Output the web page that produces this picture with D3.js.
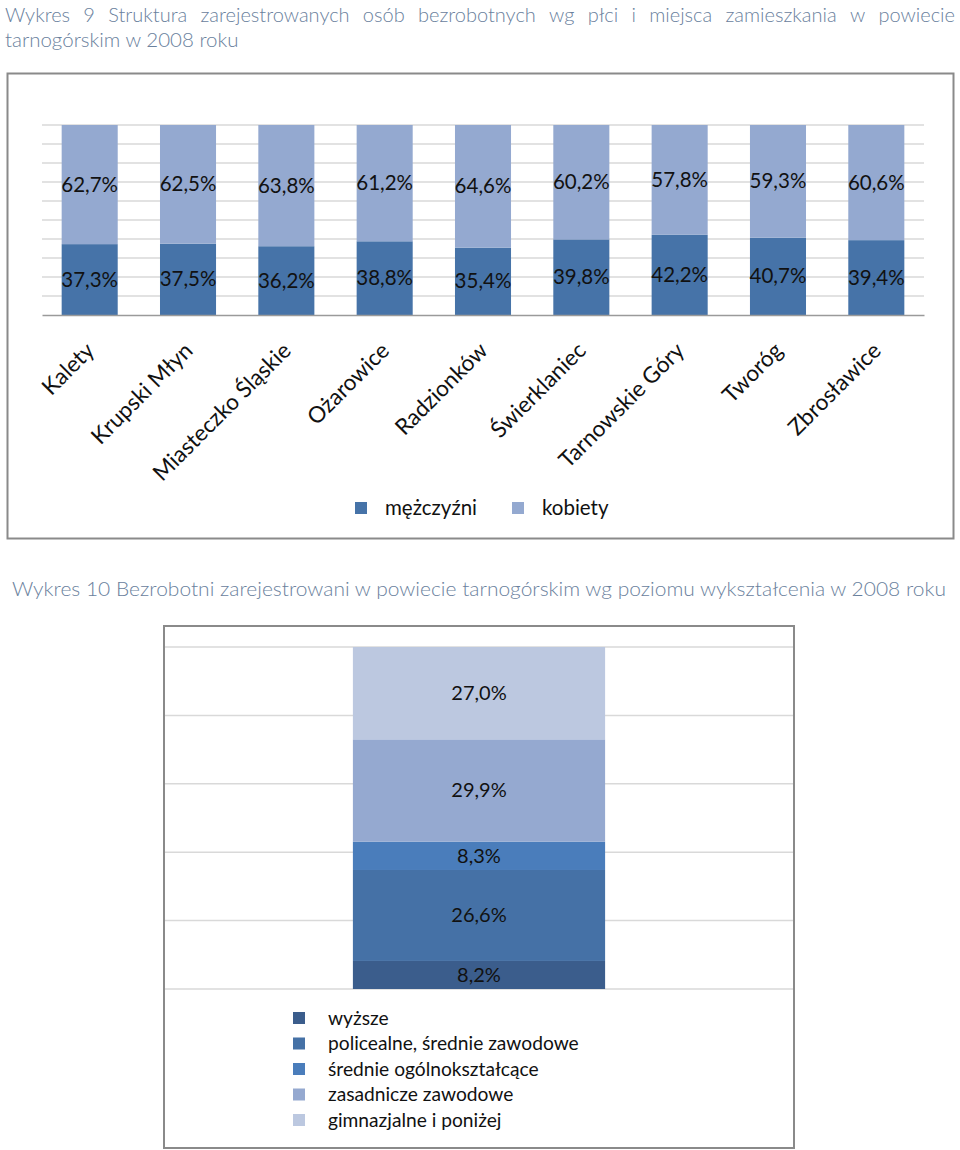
<!DOCTYPE html>
<html><head><meta charset="utf-8">
<script src="https://cdn.jsdelivr.net/npm/d3@7"></script>
<style>body{margin:0;background:#fff}</style>
</head><body>
<svg id="c" width="960" height="1150"></svg>
<script>
// ---- data ----
const title1Line1 = "Wykres 9 Struktura zarejestrowanych osób bezrobotnych wg płci i miejsca zamieszkania w powiecie";
const title1Line2 = "tarnogórskim w 2008 roku";
const title2 = "Wykres 10 Bezrobotni zarejestrowani w powiecie tarnogórskim wg poziomu wykształcenia w 2008 roku";
const gminy = ["Kalety","Krupski Młyn","Miasteczko Śląskie","Ożarowice","Radzionków","Świerklaniec","Tarnowskie Góry","Tworóg","Zbrosławice"];
const mezczyzni = [37.3,37.5,36.2,38.8,35.4,39.8,42.2,40.7,39.4];
const kobiety = [62.7,62.5,63.8,61.2,64.6,60.2,57.8,59.3,60.6];
const series1 = ["mężczyźni","kobiety"];
const colors1 = ["#4673a8","#94a9d0"];
const grid1 = [0,10,20,30,40,50,60,70,80,90,100];

const wyksztalcenie = ["wyższe","policealne, średnie zawodowe","średnie ogólnokształcące","zasadnicze zawodowe","gimnazjalne i poniżej"];
const udzial = [8.2,26.6,8.3,29.9,27.0];
const colors2 = ["#3b5d8c","#4571a6","#4a7dbb","#95a9d0","#bcc8e0"];
const grid2 = [0,20,40,60,80,100];
const rok = ["2008"];

const fmt = v => d3.format(".1f")(v).replace(".", ",") + "%";
const svg = d3.select("#c");
const F1 = "Lato, 'Noto Sans', sans-serif";
const F2 = "Lato, 'Open Sans', sans-serif";
const titleColor = "#6a819d";

// ---- title 1 (justified first line) ----
function justify(str, x0, x1, y, size) {
  const words = str.split(" ");
  const els = words.map(w => svg.append("text").attr("y", y).attr("font-family", F1)
      .attr("font-size", size).attr("font-weight", 300).attr("fill", titleColor).text(w));
  const widths = els.map(e => e.node().getComputedTextLength());
  const gap = (x1 - x0 - d3.sum(widths)) / (words.length - 1);
  let x = x0;
  els.forEach((e, i) => { e.attr("x", x); x += widths[i] + gap; });
}
justify(title1Line1, 5, 955, 22, 20);
svg.append("text").attr("x", 5).attr("y", 47).attr("font-family", F1).attr("font-size", 20.5)
  .attr("font-weight", 300).attr("fill", titleColor).text(title1Line2);

// ---- chart 1 frame ----
svg.append("rect").attr("x", 7.5).attr("y", 73.5).attr("width", 946).attr("height", 465)
  .attr("fill", "#fff").attr("stroke", "#8a8a8a").attr("stroke-width", 2);

const x1 = d3.scaleBand().domain(gminy).range([42, 924]).paddingInner(0.43).paddingOuter(0.2);
const y1 = d3.scaleLinear().domain([0, 100]).range([315, 125]);

svg.append("g").selectAll("line").data(grid1.slice(1)).join("line")
  .attr("x1", 42).attr("x2", 924).attr("y1", d => y1(d)).attr("y2", d => y1(d))
  .attr("stroke", "#d9d9d9").attr("stroke-width", 1.3);

const stacked1 = gminy.map((g, i) => ({g, m: mezczyzni[i], k: kobiety[i]}));
const st1 = d3.stack().keys(["m", "k"])(stacked1);
st1.forEach((layer, li) => {
  svg.append("g").selectAll("rect").data(layer).join("rect")
    .attr("x", d => x1(d.data.g)).attr("width", x1.bandwidth())
    .attr("y", d => y1(d[1])).attr("height", d => y1(d[0]) - y1(d[1]))
    .attr("fill", colors1[li]);
  svg.append("g").selectAll("text").data(layer).join("text")
    .attr("x", d => x1(d.data.g) + x1.bandwidth() / 2)
    .attr("y", d => (y1(d[0]) + y1(d[1])) / 2 + 7)
    .attr("text-anchor", "middle").attr("font-family", F1).attr("font-size", 20.5)
    .attr("fill", "#111").text(d => fmt(d[1] - d[0]));
});

const ax1 = svg.append("g").attr("transform", "translate(0,315)")
  .call(d3.axisBottom(x1).tickSize(0).tickPadding(0));
ax1.select(".domain").attr("stroke", "#9a9a9a").attr("stroke-width", 1.5);
ax1.selectAll("text").attr("font-family", F1).attr("font-size", 22.5).attr("fill", "#111")
  .attr("text-anchor", "end").attr("dy", 0).attr("y", 0)
  .attr("transform", "translate(6,37) rotate(-45)");

// legend 1
const lg1 = [{x: 355, tx: 385}, {x: 512, tx: 542}];
series1.forEach((s, i) => {
  svg.append("rect").attr("x", lg1[i].x).attr("y", 502).attr("width", 12).attr("height", 12).attr("fill", colors1[i]);
  svg.append("text").attr("x", lg1[i].tx).attr("y", 515).attr("font-family", F1).attr("font-size", 20.5)
    .attr("fill", "#111").text(s);
});

// ---- title 2 ----
svg.append("text").attr("x", 12).attr("y", 596).attr("font-family", F1).attr("font-size", 19.5)
  .attr("font-weight", 300).attr("fill", titleColor).attr("textLength", 934)
  .attr("lengthAdjust", "spacingAndGlyphs").text(title2);

// ---- chart 2 ----
svg.append("rect").attr("x", 164).attr("y", 626).attr("width", 630).attr("height", 522)
  .attr("fill", "#fff").attr("stroke", "#8a8a8a").attr("stroke-width", 2);

const x2 = d3.scaleBand().domain(rok).range([165, 793]).paddingInner(0).paddingOuter(0.745);
const y2 = d3.scaleLinear().domain([0, 100]).range([989, 647]);

svg.append("g").selectAll("line").data(grid2).join("line")
  .attr("x1", 165).attr("x2", 793).attr("y1", d => y2(d)).attr("y2", d => y2(d))
  .attr("stroke", "#d9d9d9").attr("stroke-width", 1.5);

const row2 = {rok: "2008"};
wyksztalcenie.forEach((w, i) => row2[w] = udzial[i]);
const st2 = d3.stack().keys(wyksztalcenie)([row2]);
st2.forEach((layer, li) => {
  const d = layer[0];
  svg.append("rect").attr("x", x2("2008")).attr("width", x2.bandwidth())
    .attr("y", y2(d[1])).attr("height", y2(d[0]) - y2(d[1])).attr("fill", colors2[li]);
  svg.append("text").attr("x", x2("2008") + x2.bandwidth() / 2)
    .attr("y", (y2(d[0]) + y2(d[1])) / 2 + 7)
    .attr("text-anchor", "middle").attr("font-family", F2).attr("font-size", 20)
    .attr("fill", "#111").text(fmt(d[1] - d[0]));
});

// legend 2
const rowsY = [1018, 1043.5, 1069, 1094.5, 1120];
wyksztalcenie.forEach((w, i) => {
  svg.append("rect").attr("x", 293).attr("y", rowsY[i] - 6).attr("width", 12).attr("height", 12).attr("fill", colors2[i]);
  svg.append("text").attr("x", 328).attr("y", rowsY[i] + 6.5).attr("font-family", F2).attr("font-size", 19.2)
    .attr("fill", "#111").text(w);
});
</script>
</body></html>
